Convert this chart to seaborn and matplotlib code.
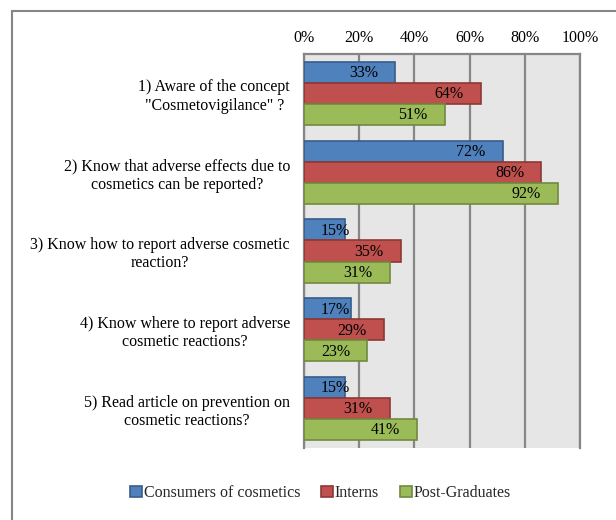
import matplotlib
matplotlib.use("Agg")
import matplotlib.pyplot as plt
import seaborn as sns
import pandas as pd
from matplotlib.patches import Patch, Rectangle

questions = [
    "1) Aware of the concept\n\"Cosmetovigilance\" ?",
    "2) Know that adverse effects due to\ncosmetics can be reported?",
    "3) Know how to report adverse cosmetic\nreaction?",
    "4) Know where to report adverse\ncosmetic reactions?",
    "5) Read article on prevention on\ncosmetic reactions?",
]
groups = ["Consumers of cosmetics", "Interns", "Post-Graduates"]
consumers = [33, 72, 15, 17, 15]
interns = [64, 86, 35, 29, 31]
postgrads = [51, 92, 31, 23, 41]
x_ticks = [0, 20, 40, 60, 80, 100]

face_colors = ["#4F81BD", "#C0504D", "#9BBB59"]
edge_colors = ["#385D8A", "#8C3836", "#71893F"]

rows = []
for g, vals in zip(groups, [consumers, interns, postgrads]):
    for q, v in zip(questions, vals):
        rows.append({"question": q, "group": g, "value": v})
df = pd.DataFrame(rows)

sns.set_style("white")
plt.rcParams["font.family"] = ["Liberation Serif", "DejaVu Serif"]

fig = plt.figure(figsize=(6.16, 5.2), dpi=100)
ax = fig.add_axes([304 / 616, 1 - 448 / 520, 276 / 616, 394 / 520])

sns.barplot(data=df, y="question", x="value", hue="group", orient="h",
            palette=face_colors, order=questions, hue_order=groups,
            width=0.8, ax=ax, legend=False, saturation=1)

for cont, ec in zip(ax.containers, edge_colors):
    for bar in cont:
        bar.set_edgecolor(ec)
        bar.set_linewidth(1.2)
        bar.set_zorder(3)

ax.set_facecolor("#E6E6E6")
ax.set_xlim(0, 100)
ax.set_ylim(4.5, -0.5)
ax.set_xticks(x_ticks)
ax.set_xticklabels([f"{t}%" for t in x_ticks])
ax.xaxis.tick_top()
ax.tick_params(axis="x", length=0, pad=5.5, labelsize=11.5, colors="black")
ax.tick_params(axis="y", length=0, pad=10, labelsize=11.5, colors="black")
for lab in ax.get_yticklabels():
    lab.set_multialignment("center")
ax.set_xlabel("")
ax.set_ylabel("")
ax.grid(axis="x", color="#868686", linewidth=1.6, zorder=0)
ax.set_axisbelow(True)
for side in ["top", "left", "right"]:
    ax.spines[side].set_visible(True)
    ax.spines[side].set_color("#868686")
    ax.spines[side].set_linewidth(1.6)
ax.spines["bottom"].set_visible(False)

# value labels (inside end)
for cont in ax.containers:
    for bar in cont:
        v = bar.get_width()
        yc = bar.get_y() + bar.get_height() / 2
        xr = max(v - 6.2, 16.6)
        ax.text(xr, yc + 0.01, f"{v:.0f}%", ha="right", va="center",
                fontsize=11.5, color="black", zorder=5)

handles = [Patch(facecolor=fc, edgecolor=ec, linewidth=1.2)
           for fc, ec in zip(face_colors, edge_colors)]
fig.legend(handles, groups, loc="center", bbox_to_anchor=(0.520, 1 - 493 / 520),
           ncol=3, frameon=False, fontsize=11.5, handlelength=0.75,
           handleheight=0.75, handletextpad=0.1, columnspacing=1.3)

fig.patches.append(Rectangle((12 / 616, -0.01), 1.0, 1 - 11 / 520 + 0.01,
                             transform=fig.transFigure, fill=False,
                             edgecolor="#868686", linewidth=1.5))

fig.savefig("out.png", dpi=100)
